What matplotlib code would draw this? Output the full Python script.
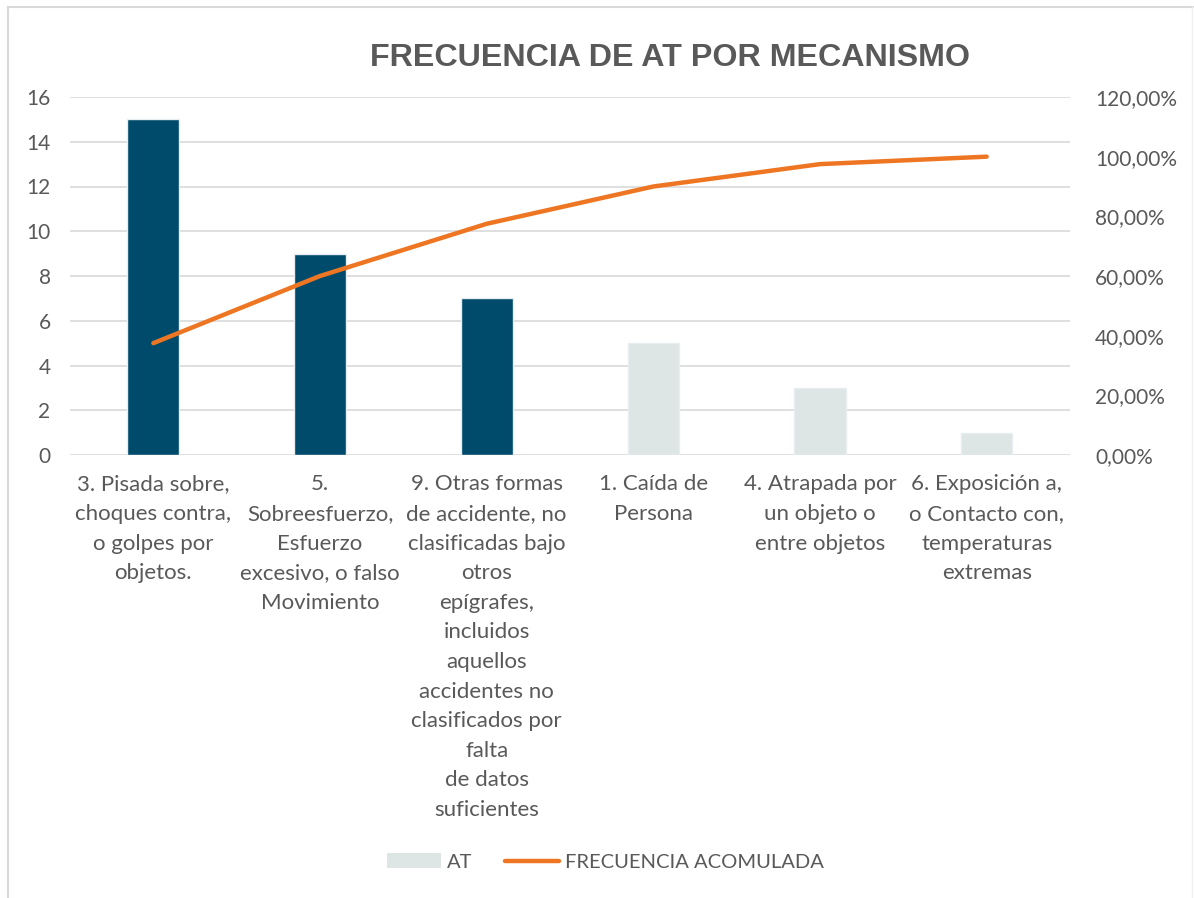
import matplotlib.pyplot as plt
import numpy as np
from matplotlib.lines import Line2D
from matplotlib.patches import Patch
from matplotlib.ticker import FuncFormatter, MultipleLocator

# Datos
categorias = ["3. Pisada sobre,\nchoques contra,\no golpes por\nobjetos.",
              "5.\nSobreesfuerzo,\nEsfuerzo\nexcesivo, o falso\nMovimiento",
              "9. Otras formas\nde accidente, no\nclasificadas bajo\notros\nepígrafes,\nincluidos\naquellos\naccidentes no\nclasificados por\nfalta\nde datos\nsuficientes",
              "1. Caída de\nPersona",
              "4. Atrapada por\nun objeto o\nentre objetos",
              "6. Exposición a,\no Contacto con,\ntemperaturas\nextremas"]
at = [15, 9, 7, 5, 3, 1]
frecuencia_acum = [37.5, 60.0, 77.5, 90.0, 97.5, 100.0]

oscuro = "#004B6B"
claro = "#DDE6E4"
naranja = "#EE7623"
gris = "#595959"

plt.rcParams['font.family'] = ['Lato', 'DejaVu Sans']

fig = plt.figure(figsize=(11.94, 8.98), dpi=100)
ax = fig.add_axes([70/1194, 1 - 455/898, 1000/1194, 358/898])
ax2 = ax.twinx()

x = np.arange(len(categorias))
colores = [oscuro, oscuro, oscuro, claro, claro, claro]
ax.bar(x, at, width=0.31, color=colores, edgecolor="#E8EEF0", linewidth=1, zorder=3)
ax2.plot(x, frecuencia_acum, color=naranja, linewidth=3.2, solid_capstyle='round', zorder=4)

ax.set_xlim(-0.5, 5.5)
ax.set_ylim(0, 16)
ax.yaxis.set_major_locator(MultipleLocator(2))
ax2.set_ylim(0, 120)
ax2.yaxis.set_major_locator(MultipleLocator(20))
ax2.yaxis.set_major_formatter(FuncFormatter(lambda v, p: f"{v:.2f}".replace('.', ',') + "%"))

ax.grid(axis='y', color="#D9D9D9", linewidth=1.2, zorder=0)
for a in (ax, ax2):
    for s in a.spines.values():
        s.set_visible(False)
    a.tick_params(length=0, colors=gris, labelsize=15)
ax.tick_params(axis='y', pad=14)
ax2.tick_params(axis='y', pad=18)

ax.set_xticks(x)
ax.set_xticklabels(categorias, linespacing=1.6, fontsize=16)
ax.tick_params(axis='x', pad=14)

fig.text(0.561, 1 - 58/898, "FRECUENCIA DE AT POR MECANISMO", ha='center', va='center',
         fontsize=23.2, fontweight='bold', color=gris, family='Liberation Sans')

handles = [Patch(facecolor=claro, edgecolor='none'),
           Line2D([0], [0], color=naranja, linewidth=3.2, solid_capstyle='round')]
fig.legend(handles, ["AT", "FRECUENCIA ACOMULADA"], loc='center', bbox_to_anchor=(0.507, 1 - 862/898),
           ncol=2, frameon=False, fontsize=14.5, labelcolor=gris, handlelength=2.7,
           handletextpad=0.3, columnspacing=1.6)

# borde del grafico
fig.add_artist(Line2D([8/1194, 8/1194], [0, 1 - 7/898], color="#D9D9D9", linewidth=1.5))
fig.add_artist(Line2D([8/1194, 1], [1 - 7/898, 1 - 7/898], color="#D9D9D9", linewidth=1.5))
fig.add_artist(Line2D([1192/1194, 1192/1194], [0, 1 - 7/898], color="#F0F0F0", linewidth=1))

fig.savefig("out.png", dpi=100)
